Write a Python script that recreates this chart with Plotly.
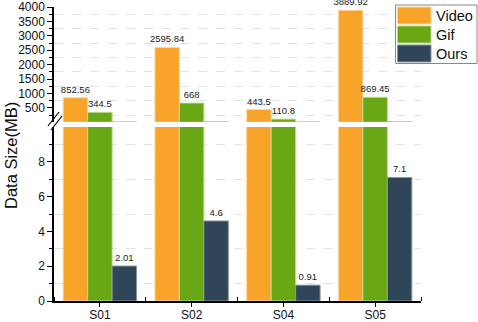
import plotly.graph_objects as go

# data
categories = ["S01", "S02", "S04", "S05"]
video = [852.56, 2595.84, 443.5, 3889.92]
gif = [344.5, 668, 110.8, 869.45]
ours = [2.01, 4.6, 0.91, 7.1]

series = [
    ("Video", video, "#F8A42B", "#FDD69E"),
    ("Gif", gif, "#6AA715", "#B7DB8C"),
    ("Ours", ours, "#2E4658", "#8C949B"),
]

xpos = list(range(len(categories)))

def fmt(v):
    return str(int(v)) if float(v).is_integer() else str(v)

# pixel -> paper helpers (plot area: x 54..421, y 7..301)
L, R, T, B = 54, 421, 7, 301
def px(x):
    return (x - L) / (R - L)
def py(y):
    return (B - y) / (B - T)

fig = go.Figure()

# lower segment (0-10) and upper segment (10-4000) of the broken axis
for name, vals, color, edge in series:
    fig.add_trace(go.Bar(
        x=xpos, y=vals, name=name, xaxis="x", yaxis="y",
        marker=dict(color=color, line=dict(color=edge, width=1)),
        text=[fmt(v) for v in vals] if name == "Ours" else None,
        textposition="outside", constraintext="none", cliponaxis=False,
        textfont=dict(size=9.5, color="#222222")))
    fig.add_trace(go.Bar(
        x=xpos, y=vals, name=name, xaxis="x2", yaxis="y2",
        marker=dict(color=color, line=dict(color=edge, width=1)),
        text=[fmt(v) for v in vals] if name != "Ours" else None,
        textposition="outside", constraintext="none", cliponaxis=False,
        textfont=dict(size=9.5, color="#222222")))

grid = dict(showgrid=True, gridcolor="#e2e2e2", griddash="dash", gridwidth=1)
axis_font = dict(family="Liberation Sans, Arial, sans-serif", size=12, color="#111111")

fig.update_layout(
    width=478, height=322,
    margin=dict(l=L, r=478 - R, t=T, b=322 - B),
    paper_bgcolor="white", plot_bgcolor="white",
    barmode="group", bargap=0.2, bargroupgap=0,
    showlegend=False,
    font=dict(family="Liberation Sans, Arial, sans-serif", color="#111111"),
    xaxis=dict(
        domain=[0, 1], anchor="y", range=[-0.5, 3.5], automargin=False,
        tickvals=xpos, ticktext=categories, tickfont=axis_font,
        ticklabeloverflow="allow", ticklabelstandoff=-2,
        showline=True, linecolor="black", linewidth=1.5,
        ticks="outside", ticklen=4, tickcolor="black", tickwidth=1,
        showgrid=False, zeroline=False,
        minor=dict(tick0=0.5, dtick=1, ticks="inside", ticklen=4,
                   tickcolor="black", showgrid=False),
    ),
    xaxis2=dict(domain=[0, 1], anchor="y2", matches="x", visible=False,
                automargin=False),
    yaxis=dict(
        domain=[0, py(127)], range=[0, 10], anchor="x", automargin=False,
        tickvals=[0, 2, 4, 6, 8], tickfont=axis_font,
        ticklabeloverflow="allow",
        showline=True, linecolor="black", linewidth=1.5,
        ticks="outside", ticklen=5, tickcolor="black",
        showgrid=False, zeroline=False,
        minor=dict(tick0=1, dtick=2, ticks="outside", ticklen=3,
                   tickcolor="black", **grid),
    ),
    yaxis2=dict(
        domain=[py(122), 1], range=[10, 4001], anchor="x2", automargin=False,
        tickvals=[500, 1000, 1500, 2000, 2500, 3000, 3500, 4000],
        tickfont=axis_font, ticklabeloverflow="allow",
        showline=True, linecolor="black", linewidth=1.5,
        ticks="outside", ticklen=5, tickcolor="black",
        showgrid=False, zeroline=False,
        minor=dict(tick0=250, dtick=500, ticks="outside", ticklen=3,
                   tickcolor="black", **grid),
    ),
)

annotations = [dict(
    text="Data Size(MB)", xref="paper", yref="paper",
    x=px(11), y=py(156), textangle=-90, showarrow=False,
    xanchor="center", yanchor="middle",
    font=dict(size=16.5, color="#111111"),
)]

# legend box drawn by hand (large swatches like the original)
fig.add_shape(type="rect", xref="paper", yref="paper",
              x0=px(395.5), x1=px(477), y0=py(63.5), y1=py(5),
              fillcolor="white", line=dict(color="#888888", width=1))
for i, (name, vals, color, edge) in enumerate(series):
    top = 7 + i * 19
    fig.add_shape(type="rect", xref="paper", yref="paper",
                  x0=px(397.5), x1=px(431), y0=py(top + 17), y1=py(top),
                  fillcolor=color, line=dict(color=edge, width=1))
    annotations.append(dict(
        text=name, xref="paper", yref="paper", x=px(434), y=py(top + 9),
        xanchor="left", yanchor="middle", showarrow=False,
        font=dict(size=14.5, color="#111111")))

fig.update_layout(annotations=annotations)

# break marks on the y axis
for dx, dy in [(0, 0), (3, 4)]:
    fig.add_shape(type="line", xref="paper", yref="paper",
                  x0=px(48 + dx), x1=px(59 + dx),
                  y0=py(126 + dy), y1=py(112 + dy),
                  line=dict(color="black", width=1.2))

# page body has a default 8px margin; drop it so the figure sits at 0,0
fig.write_html("out.html", config={"displayModeBar": False},
               post_script="document.body.style.margin='0';")
